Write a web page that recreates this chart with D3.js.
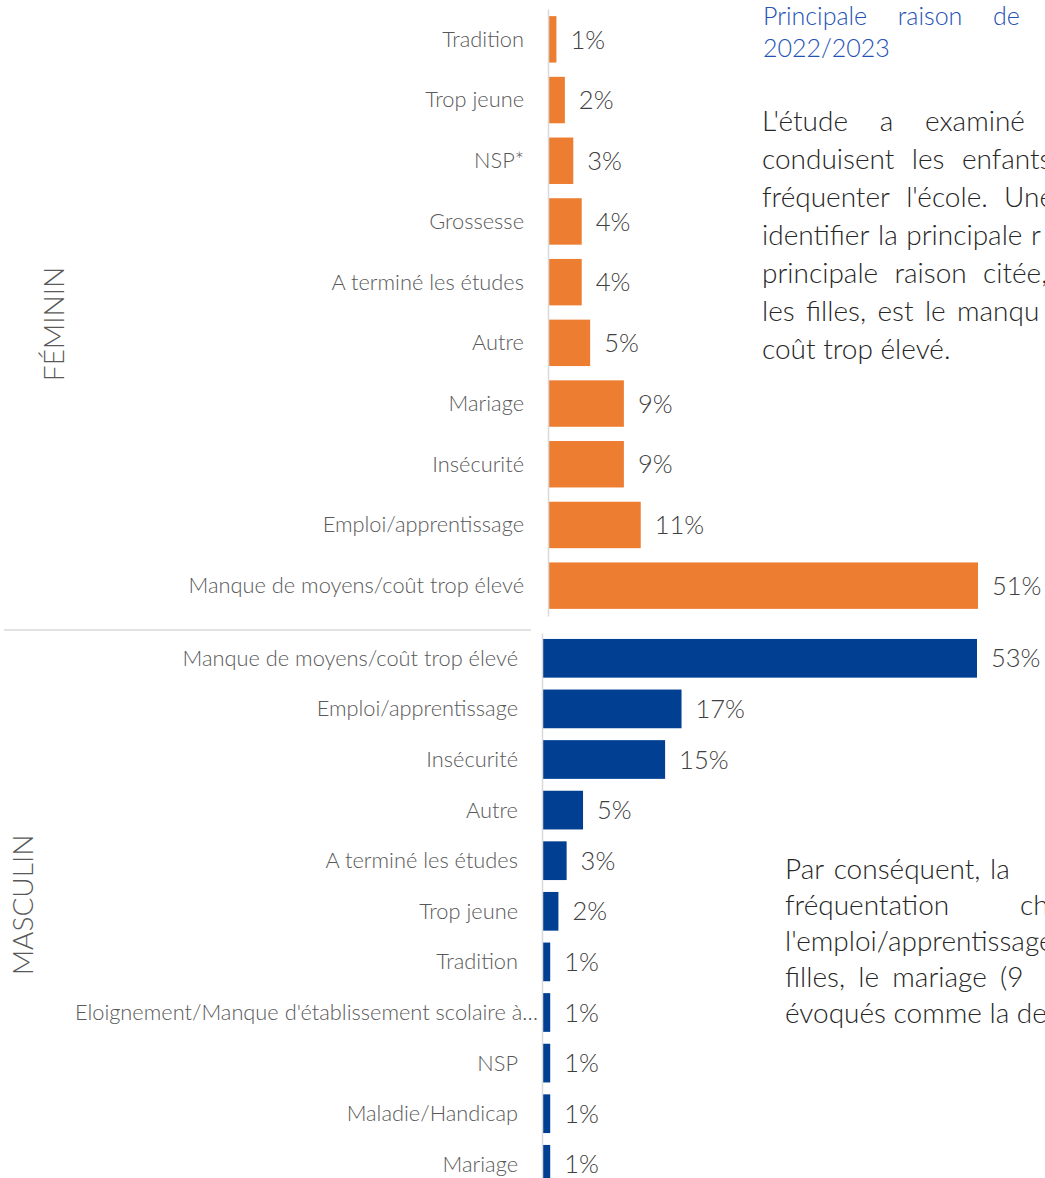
<!DOCTYPE html>
<html><head><meta charset="utf-8">
<script src="https://cdn.jsdelivr.net/npm/d3@7/dist/d3.min.js"></script>
<style>
html,body{margin:0;padding:0;background:#fff;overflow:hidden;}
svg{display:block;font-family:Lato,"Noto Sans",sans-serif;}
</style></head>
<body><svg id="c" width="1045" height="1178"></svg>
<script>
// ---- data ----
const femCategories = ["Tradition","Trop jeune","NSP*","Grossesse","A terminé les études","Autre","Mariage","Insécurité","Emploi/apprentissage","Manque de moyens/coût trop élevé"];
const femValues = [1,2,3,4,4,5,9,9,11,51];
const mascCategories = ["Manque de moyens/coût trop élevé","Emploi/apprentissage","Insécurité","Autre","A terminé les études","Trop jeune","Tradition","Eloignement/Manque d'établissement scolaire à…","NSP","Maladie/Handicap","Mariage"];
const mascValues = [53,17,15,5,3,2,1,1,1,1,1];
const groupLabels = ["FÉMININ","MASCULIN"];
const titleLines = [["Principale","raison","de"],["2022/2023"]];
const introLines = [["L'étude","a","examiné"],["conduisent","les","enfants"],["fréquenter","l'école.","Une"],["identifier","la","principale","r"],["principale","raison","citée,"],["les","filles,","est","le","manqu"],["coût trop élevé."]];
const outroLines = [["Par","conséquent,","la"],["fréquentation","ch"],["l'emploi/apprentissage"],["filles,","le","mariage","(9"],["évoqués comme la de"]];

const svg = d3.select("#c");
const ORANGE = "#ED7D31", BLUE = "#003F92";

function drawPanel(cats, vals, color, xr, yr, maxV){
  const x = d3.scaleLinear().domain([0,maxV]).range(xr);
  const y = d3.scaleBand().domain(cats).range(yr).paddingInner(0.235).paddingOuter(0.1175);
  const g = svg.append("g");
  g.selectAll("rect").data(cats).join("rect")
    .attr("x", x(0)).attr("y", d=>y(d))
    .attr("width", (d,i)=>x(vals[i])-x(0)).attr("height", y.bandwidth())
    .attr("fill", color);
  const ax = g.append("g").attr("transform",`translate(${x(0)},0)`)
    .call(d3.axisLeft(y).tickSize(0).tickSizeOuter(0).tickPadding(24));
  ax.select(".domain").attr("stroke","#d9d9d9").attr("stroke-width",1.5);
  ax.selectAll(".tick text").attr("font-family","Lato").attr("font-weight",300)
    .attr("font-size",21.8).attr("fill","#595959").attr("dy","0.34em")
    .filter(d=>d.endsWith("…")).attr("x",-4);
  g.selectAll("text.val").data(cats).join("text").attr("class","val")
    .attr("x",(d,i)=>x(vals[i])+14).attr("y",d=>y(d)+y.bandwidth()/2)
    .attr("dy","0.36em").attr("font-weight",300).attr("font-size",25.5)
    .attr("fill","#404040").text((d,i)=>vals[i]+"%");
}
drawPanel(femCategories, femValues, ORANGE, [548,978], [9,616], 51);
drawPanel(mascCategories, mascValues, BLUE, [542,977], [633,1189.6], 53);

// separator
svg.append("line").attr("x1",4).attr("x2",531).attr("y1",630).attr("y2",630)
  .attr("stroke","#d9d9d9").attr("stroke-width",1.5);

// group labels
[[groupLabels[0],54,324],[groupLabels[1],23,905]].forEach(([t,cx,cy])=>{
  svg.append("text").attr("transform",`translate(${cx},${cy}) rotate(-90)`)
    .attr("text-anchor","middle").attr("dy","0.36em").attr("font-weight",300)
    .attr("font-size",28).attr("fill","#595959").text(t);
});

// justified text blocks
function block(lines, x0, y0, lh, size, color, lastXs){
  lines.forEach((words,i)=>{
    const yy = y0 + i*lh;
    const lastX = lastXs[i];
    if(words.length===1 || lastX==null){
      svg.append("text").attr("x",x0).attr("y",yy).attr("font-weight",300)
        .attr("font-size",size).attr("fill",color).text(words.join(" "));
      return;
    }
    const nodes = words.map(w=>svg.append("text").attr("y",yy).attr("font-weight",300)
      .attr("font-size",size).attr("fill",color).text(w));
    const widths = nodes.map(n=>n.node().getComputedTextLength());
    const used = d3.sum(widths.slice(0,-1));
    const gap = (lastX - x0 - used)/(words.length-1);
    let cx = x0;
    nodes.forEach((n,k)=>{ n.attr("x", k===words.length-1 ? lastX : cx); cx += widths[k]+gap; });
  });
}
block(titleLines, 763, 25, 32, 25, "#2452B5", [993,null]);
block(introLines, 762, 131, 38, 28, "#262626", [925,962,1004,1031,983,957,null]);
block(outroLines, 785, 879, 36, 28, "#262626", [990,1020,null,1000,null]);
</script></body></html>
